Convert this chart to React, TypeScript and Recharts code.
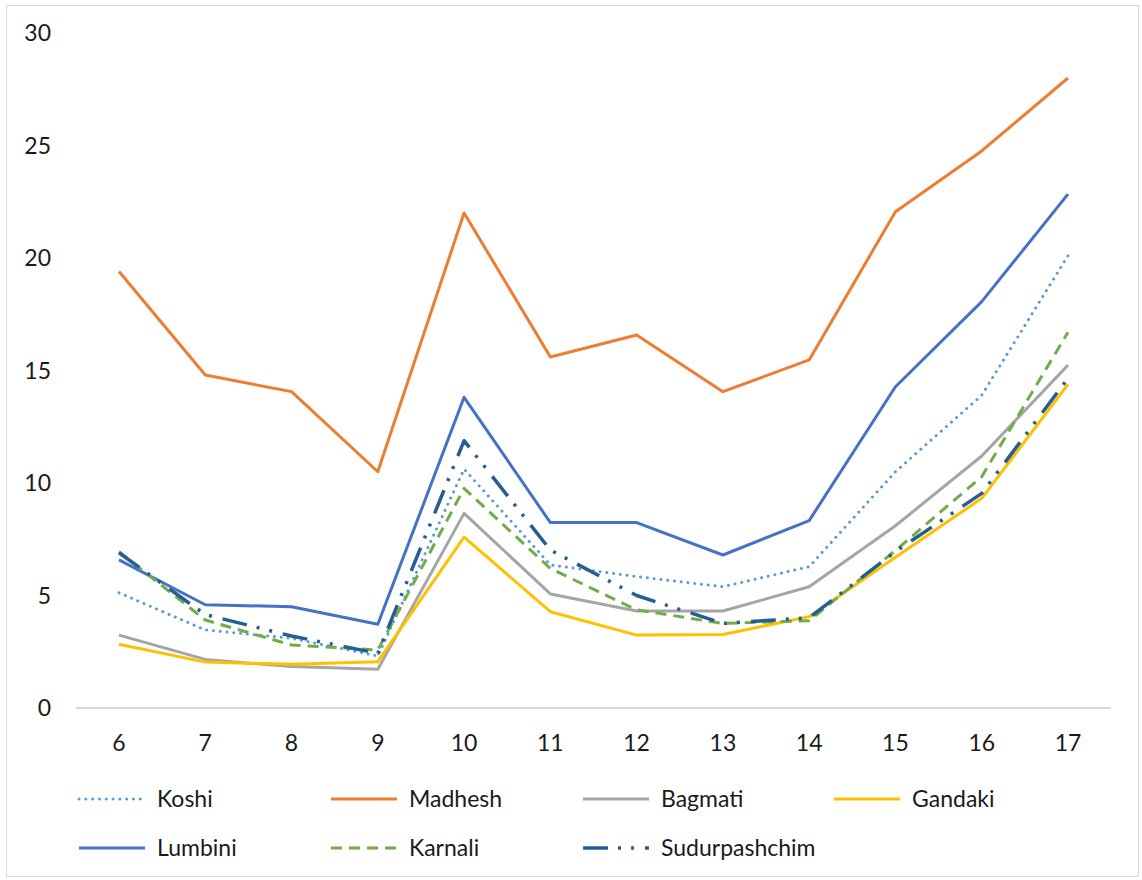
import React from 'react';
import { LineChart, Line, XAxis, YAxis, Legend } from 'recharts';

const ages = ['6', '7', '8', '9', '10', '11', '12', '13', '14', '15', '16', '17'];
const koshi = [5.12, 3.47, 3.1, 2.31, 10.62, 6.36, 5.84, 5.39, 6.28, 10.5, 13.9, 20.1];
const madhesh = [19.4, 14.8, 14.06, 10.5, 22.0, 15.6, 16.58, 14.06, 15.47, 22.06, 24.76, 28.0];
const bagmati = [3.24, 2.16, 1.84, 1.72, 8.65, 5.07, 4.31, 4.31, 5.39, 8.1, 11.2, 15.24];
const gandaki = [2.83, 2.04, 1.94, 2.06, 7.59, 4.28, 3.24, 3.27, 4.06, 6.7, 9.32, 14.38];
const lumbini = [6.58, 4.59, 4.5, 3.72, 13.81, 8.24, 8.24, 6.8, 8.33, 14.28, 18.06, 22.84];
const karnali = [6.95, 3.91, 2.8, 2.58, 9.76, 6.2, 4.36, 3.76, 3.88, 7.0, 10.28, 16.7];
const sudurpashchim = [6.9, 4.15, 3.2, 2.43, 11.88, 7.02, 5.0, 3.76, 4.01, 6.95, 9.54, 14.65];
const yTicks = [0, 5, 10, 15, 20, 25, 30];

const data = ages.map((a, i) => ({
  age: a,
  Koshi: koshi[i],
  Madhesh: madhesh[i],
  Bagmati: bagmati[i],
  Gandaki: gandaki[i],
  Lumbini: lumbini[i],
  Karnali: karnali[i],
  Sudurpashchim: sudurpashchim[i],
}));

type S = { key: string; color: string; width: number; dash?: string; cap: 'round' | 'butt' };
const series: S[] = [
  { key: 'Koshi', color: '#5B9BD5', width: 3, dash: '0.01 6.8', cap: 'round' },
  { key: 'Madhesh', color: '#ED7D31', width: 3, cap: 'butt' },
  { key: 'Bagmati', color: '#A5A5A5', width: 3, cap: 'butt' },
  { key: 'Gandaki', color: '#FFC000', width: 3, cap: 'butt' },
  { key: 'Lumbini', color: '#4472C4', width: 3, cap: 'butt' },
  { key: 'Karnali', color: '#70AD47', width: 3, dash: '11 7', cap: 'butt' },
  { key: 'Sudurpashchim', color: '#255E91', width: 3.5, dash: '25 10 3 10 3 11', cap: 'butt' },
];

const FONT = 'Lato, Carlito, Calibri, sans-serif';
const TEXT = '#1a1a1a';

const legendCols = [79, 331, 583, 834];
const legendRows = [39, 88];

const LegendContent = () => (
  <svg width={1142} height={120} style={{ display: 'block' }}>
    {series.map((s, i) => {
      const x = legendCols[i % 4];
      const y = legendRows[Math.floor(i / 4)];
      return (
        <g key={s.key}>
          <line
            x1={x}
            x2={x + 66}
            y1={y}
            y2={y}
            stroke={s.color}
            strokeWidth={s.width}
            strokeDasharray={s.dash}
            strokeLinecap={s.cap}
          />
          <text x={x + 78} y={y + 8} fontFamily={FONT} fontSize={23} fill={TEXT}>
            {s.key}
          </text>
        </g>
      );
    })}
  </svg>
);

export default function App() {
  return (
    <div style={{ position: 'absolute', left: 0, top: 0, width: 1142, height: 880, background: '#fff' }}>
      <div
        style={{
          position: 'absolute',
          left: 6,
          top: 5,
          width: 1133,
          height: 872,
          border: '1.5px solid #D9D9D9',
          boxSizing: 'border-box',
        }}
      />
      <div style={{ position: 'absolute', left: 0, top: 0 }}>
        <LineChart width={1142} height={880} data={data} margin={{ top: 33, right: 31, left: 0, bottom: 0 }}>
          <XAxis
            dataKey="age"
            height={52}
            padding={{ left: 43, right: 43 }}
            tickSize={0}
            tickMargin={27}
            axisLine={{ stroke: '#D9D9D9', strokeWidth: 2 }}
            tickLine={false}
            tick={{ fontFamily: FONT, fontSize: 23, fill: TEXT }}
          />
          <YAxis
            width={76}
            domain={[0, 30]}
            ticks={yTicks}
            tickSize={0}
            tickMargin={25}
            axisLine={false}
            tickLine={false}
            tick={{ fontFamily: FONT, fontSize: 23, fill: TEXT }}
          />
          <Legend
            verticalAlign="bottom"
            height={120}
            content={() => <LegendContent />}
            wrapperStyle={{ left: 0, bottom: 0, width: 1142, height: 120 }}
          />
          {series.map((s) => (
            <Line
              key={s.key}
              dataKey={s.key}
              type="linear"
              stroke={s.color}
              strokeWidth={s.width}
              strokeDasharray={s.dash}
              strokeLinecap={s.cap}
              strokeLinejoin="round"
              dot={false}
              activeDot={false}
              isAnimationActive={false}
            />
          ))}
        </LineChart>
      </div>
    </div>
  );
}
